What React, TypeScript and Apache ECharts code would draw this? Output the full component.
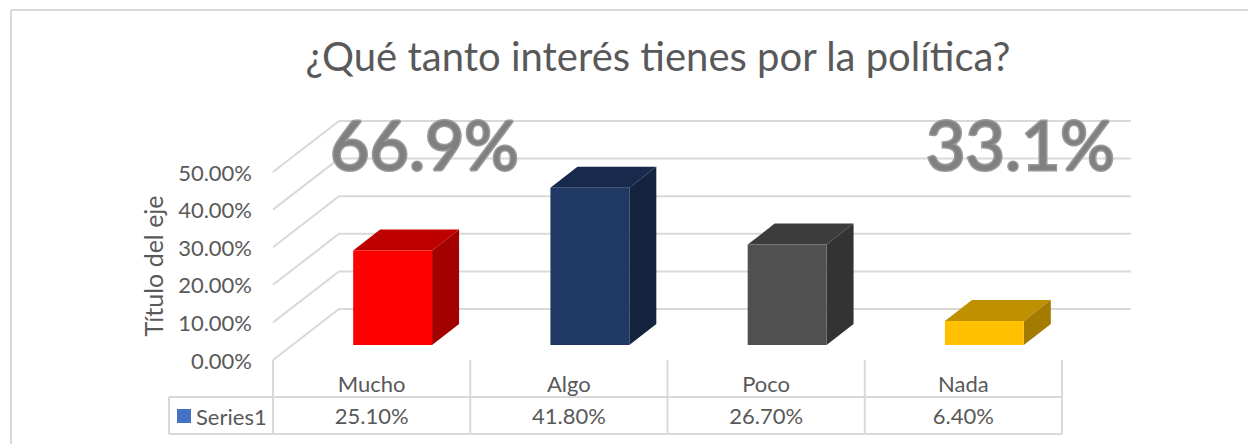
import React, { useEffect, useRef } from "react";
import * as echarts from "echarts";

const title = "¿Qué tanto interés tienes por la política?";
const categories = ["Mucho", "Algo", "Poco", "Nada"];
const values = [25.1, 41.8, 26.7, 6.4];
const valueLabels = ["25.10%", "41.80%", "26.70%", "6.40%"];
const gridTicks = [0, 10, 20, 30, 40, 50];
const seriesName = "Series1";
const axisTitle = "Título del eje";
const bigLabels = ["66.9%", "33.1%"];
const frontColors = ["#FF0000", "#1F3864", "#505050", "#FFC000"];
const topColors = ["#BF0000", "#172A4B", "#3C3C3C", "#BF9000"];
const sideColors = ["#A30000", "#14243F", "#333333", "#A37B00"];

const FONT = "Lato, Carlito, sans-serif";
const GRID = { left: 273, right: 186, top: 172, bottom: 84 };
const W = 1248;
const H = 444;
const WALL_DX = 66;
const WALL_DY = -51;
const LINE = "#D9D9D9";
const TEXT = "#595959";

export default function App() {
  const ref = useRef<HTMLDivElement>(null);
  useEffect(() => {
    document.body.style.margin = "0";
    const chart = echarts.init(ref.current!, undefined, { renderer: "svg" });
    const right = W - GRID.right;
    const catW = (right - GRID.left) / categories.length;
    const tableTop = H - GRID.bottom;
    const row1 = 397;
    const row2 = 434;
    const tableLines: any[] = [];
    const addLine = (x1: number, y1: number, x2: number, y2: number) =>
      tableLines.push({
        type: "line",
        silent: true,
        shape: { x1, y1, x2, y2 },
        style: { stroke: LINE, lineWidth: 2 },
      });
    categories.concat("").forEach((_, i) => {
      const x = GRID.left + catW * i;
      addLine(x, tableTop, x, row2);
    });
    addLine(169, row1, right, row1);
    addLine(169, row2, right, row2);
    addLine(169, row1, 169, row2);
    // chart frame: only its left and top edges fall inside the picture
    addLine(11, 10, W, 10);
    addLine(11, 10, 11, H);

    chart.setOption({
      animation: false,
      backgroundColor: "#FFFFFF",
      textStyle: { fontFamily: FONT },
      title: {
        text: title,
        left: 653,
        top: 31,
        textAlign: "center",
        textStyle: { fontFamily: FONT, fontSize: 40, fontWeight: "normal", color: TEXT },
      },
      legend: {
        data: [{ name: seriesName, icon: "rect" }],
        left: 172,
        top: 400,
        itemWidth: 14,
        itemHeight: 14,
        itemGap: 5,
        textStyle: { fontFamily: FONT, fontSize: 22, color: TEXT, padding: [0, 0, 0, 0] },
      },
      grid: GRID,
      xAxis: [
        {
          type: "category",
          data: categories,
          axisLine: { show: false },
          axisTick: { show: false },
          axisLabel: { fontFamily: FONT, fontSize: 22, color: TEXT, margin: 12 },
        },
        {
          type: "category",
          position: "bottom",
          offset: 32,
          data: valueLabels,
          axisLine: { show: false },
          axisTick: { show: false },
          axisLabel: { fontFamily: FONT, fontSize: 22, color: TEXT, margin: 12 },
        },
      ],
      yAxis: {
        type: "value",
        min: 0,
        max: 50,
        interval: 10,
        name: axisTitle,
        nameLocation: "middle",
        nameGap: 108,
        nameTextStyle: { fontFamily: FONT, fontSize: 25, color: TEXT },
        axisLine: { show: false },
        axisTick: { show: false },
        splitLine: { show: false },
        axisLabel: {
          fontFamily: FONT,
          fontSize: 22,
          color: TEXT,
          margin: 21,
          formatter: (v: number) => v.toFixed(2) + "%",
        },
      },
      series: [
        {
          type: "custom",
          name: "wall",
          silent: true,
          z: 1,
          data: gridTicks.map((t) => [0, t]),
          encode: { x: 0, y: 1 },
          renderItem: (_p: any, api: any) => {
            const y = api.coord([0, api.value(1)])[1];
            return {
              type: "polyline",
              shape: {
                points: [
                  [GRID.left, y],
                  [GRID.left + WALL_DX, y + WALL_DY],
                  [right + WALL_DX + 3, y + WALL_DY],
                ],
              },
              style: { stroke: LINE, lineWidth: 2, fill: "none" },
            };
          },
        },
        {
          type: "custom",
          name: seriesName,
          itemStyle: { color: "#4472C4" },
          z: 3,
          data: values.map((v, i) => [i, v]),
          encode: { x: 0, y: 1 },
          renderItem: (_p: any, api: any) => {
            const i = api.value(0);
            const base = api.coord([i, 0]);
            const top = api.coord([i, api.value(1)]);
            const bw = api.size([1, 0])[0] * 0.4;
            const x0 = base[0] - bw / 2 + 21;
            const x1 = x0 + bw;
            const yb = base[1] - 15;
            const yt = top[1] - 15;
            const dx = 27;
            const dy = -21;
            return {
              type: "group",
              children: [
                {
                  type: "polygon",
                  shape: { points: [[x0, yt], [x1, yt], [x1 + dx, yt + dy], [x0 + dx, yt + dy]] },
                  style: { fill: topColors[i] },
                },
                {
                  type: "polygon",
                  shape: { points: [[x1, yb], [x1 + dx, yb + dy], [x1 + dx, yt + dy], [x1, yt]] },
                  style: { fill: sideColors[i] },
                },
                {
                  type: "rect",
                  shape: { x: x0, y: yt, width: bw, height: yb - yt },
                  style: { fill: frontColors[i] },
                },
              ],
            };
          },
        },
      ],
      graphic: [
        ...tableLines,
        ...bigLabels.map((t, i) => ({
          type: "text",
          silent: true,
          z: 10,
          x: i === 0 ? 330 : 926,
          y: 109,
          style: {
            text: t,
            fontFamily: FONT,
            fontSize: 68,
            fontWeight: "normal",
            fill: "#808080",
            stroke: "#9A9A9A",
            lineWidth: 3,
          },
        })),
      ],
    });
    return () => chart.dispose();
  }, []);
  return <div ref={ref} style={{ width: W, height: H }} />;
}
